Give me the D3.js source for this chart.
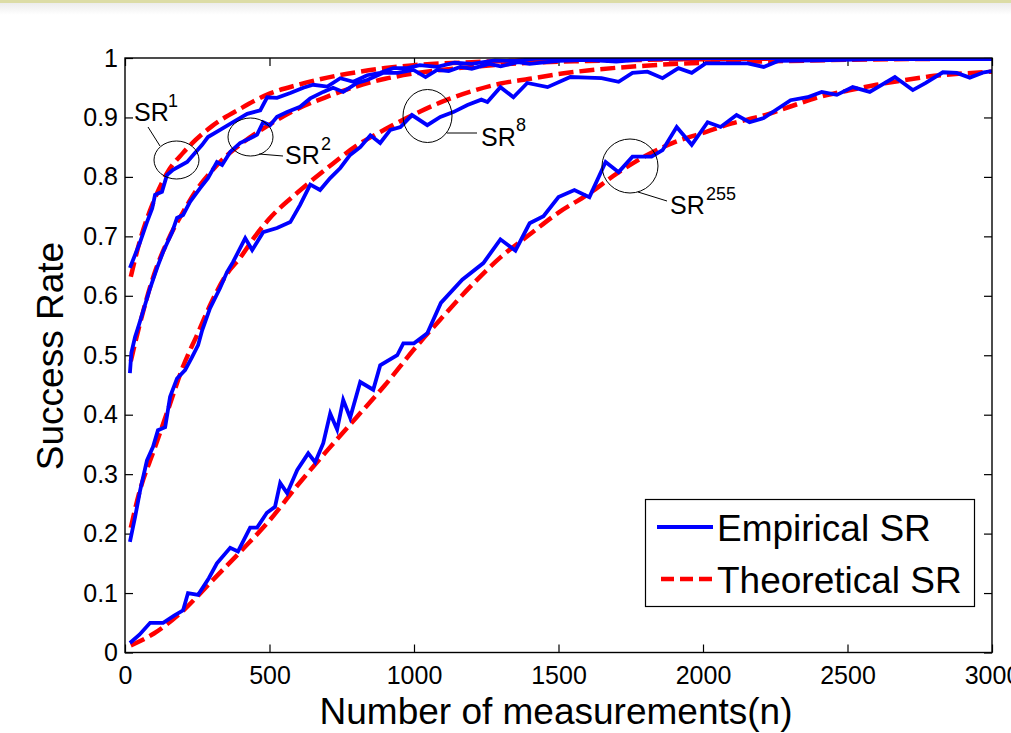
<!DOCTYPE html>
<html>
<head>
<meta charset="utf-8">
<script src="https://cdn.jsdelivr.net/npm/d3@7"></script>
<style>
  body { margin: 0; background: #fff; }
  svg { display: block; }
  text { font-family: "Liberation Sans", Arial, sans-serif; fill: #000; }
</style>
</head>
<body>
<div id="chart"></div>
<script>
// tick values
const xTicks = [0, 500, 1000, 1500, 2000, 2500, 3000];
const yTicks = [0, 0.1, 0.2, 0.3, 0.4, 0.5, 0.6, 0.7, 0.8, 0.9, 1];
const yTickLabels = ["0", "0.1", "0.2", "0.3", "0.4", "0.5", "0.6", "0.7", "0.8", "0.9", "1"];
const legendLabels = ["Empirical SR", "Theoretical SR"];

// empirical success rate, [n, SR]
const empSR1 = [[17,0.647],[35,0.669],[52,0.69],[76,0.724],[94,0.747],[104,0.77],[128,0.775],[145,0.803],[166,0.812],
  [215,0.825],[242,0.84],[267,0.854],[287,0.867],[329,0.879],[374,0.892],[423,0.906],[468,0.912],[492,0.934],[526,0.933],
  [572,0.941],[617,0.95],[651,0.955],[700,0.952],[745,0.966],[790,0.96],[838,0.971],[883,0.975],[928,0.983],[977,0.983],
  [1020,0.988],[1080,0.985],[1140,0.992],[1200,0.99],[1280,0.996],[1350,0.995],[1420,0.999],[1600,1],[3000,1]];
const empSR2 = [[17,0.47],[22,0.504],[35,0.531],[45,0.546],[62,0.573],[87,0.613],[111,0.647],[132,0.674],[163,0.707],
  [180,0.731],[201,0.736],[225,0.758],[260,0.781],[287,0.798],[318,0.825],[336,0.82],[364,0.842],[398,0.857],[433,0.865],
  [457,0.871],[478,0.892],[502,0.887],[526,0.901],[561,0.909],[606,0.918],[641,0.932],[686,0.943],[720,0.95],[755,0.943],
  [803,0.958],[838,0.963],[894,0.975],[942,0.975],[998,0.98],[1040,0.968],[1080,0.98],[1120,0.978],[1160,0.985],
  [1200,0.982],[1260,0.99],[1300,0.986],[1360,0.993],[1400,0.99],[1500,0.995],[1600,0.997],[1700,0.994],[1800,0.998],
  [2000,1],[3000,1]];
const empSR8 = [[17,0.186],[35,0.228],[52,0.272],[76,0.323],[97,0.346],[114,0.374],[139,0.379],[156,0.43],[180,0.461],
  [208,0.475],[232,0.497],[253,0.517],[267,0.542],[294,0.579],[329,0.613],[353,0.64],[374,0.657],[416,0.697],[440,0.677],
  [478,0.707],[526,0.714],[572,0.724],[606,0.753],[641,0.787],[675,0.778],[710,0.798],[745,0.815],[779,0.837],[814,0.85],
  [849,0.87],[883,0.857],[918,0.879],[953,0.884],[993,0.904],[1046,0.887],[1091,0.901],[1136,0.909],[1185,0.921],
  [1233,0.93],[1254,0.926],[1299,0.951],[1344,0.934],[1392,0.958],[1462,0.951],[1541,0.968],[1600,0.967],[1649,0.966],
  [1708,0.96],[1756,0.975],[1808,0.977],[1860,0.966],[1915,0.983],[1961,0.975],[2009,0.991],[2089,0.991],[2155,0.991],
  [2210,0.985],[2260,0.995],[2400,0.996],[2600,0.998],[3000,0.998]];
const empSR255 = [[17,0.016],[50,0.03],[87,0.05],[132,0.05],[170,0.062],[201,0.071],[218,0.1],[253,0.097],[290,0.125],
  [318,0.15],[364,0.176],[391,0.17],[433,0.21],[457,0.21],[491,0.235],[519,0.245],[537,0.285],[561,0.268],[596,0.307],
  [634,0.335],[658,0.32],[686,0.352],[710,0.402],[734,0.375],[755,0.425],[779,0.395],[814,0.455],[859,0.442],[883,0.483],
  [942,0.5],[963,0.52],[1000,0.52],[1046,0.537],[1093,0.588],[1167,0.627],[1240,0.655],[1299,0.695],[1351,0.676],
  [1400,0.722],[1448,0.734],[1500,0.766],[1555,0.778],[1607,0.766],[1663,0.825],[1708,0.808],[1756,0.834],[1822,0.834],
  [1860,0.845],[1909,0.884],[1961,0.854],[2016,0.892],[2061,0.884],[2116,0.904],[2161,0.892],[2210,0.899],[2303,0.929],
  [2362,0.934],[2411,0.943],[2463,0.938],[2518,0.951],[2577,0.943],[2664,0.968],[2726,0.946],[2771,0.958],[2830,0.976],
  [2878,0.975],[2923,0.967],[2972,0.976],[3000,0.978]];

// theoretical success rate, [n, SR]
const theoSR1 = [[20,0.632],[50,0.69],[100,0.76],[150,0.81],[200,0.84],[300,0.885],[400,0.915],[500,0.94],[600,0.955],
  [700,0.967],[800,0.976],[900,0.983],[1000,0.988],[1200,0.993],[1400,0.996],[1600,0.998],[2000,0.999],[3000,1]];
const theoSR2 = [[20,0.49],[50,0.55],[100,0.635],[150,0.695],[200,0.74],[250,0.78],[300,0.81],[350,0.835],[400,0.855],
  [500,0.888],[600,0.915],[700,0.935],[800,0.952],[900,0.965],[1000,0.974],[1200,0.985],[1400,0.992],[1600,0.995],
  [2000,0.998],[3000,1]];
const theoSR8 = [[20,0.21],[50,0.27],[100,0.34],[150,0.41],[200,0.48],[250,0.535],[300,0.59],[350,0.635],[400,0.665],
  [450,0.7],[500,0.73],[600,0.775],[700,0.815],[800,0.852],[900,0.88],[1000,0.905],[1100,0.927],[1200,0.944],[1300,0.957],
  [1400,0.965],[1500,0.973],[1600,0.979],[1800,0.987],[2000,0.992],[2200,0.994],[2500,0.997],[3000,0.999]];
const theoSR255 = [[20,0.012],[100,0.032],[200,0.07],[300,0.12],[400,0.17],[500,0.222],[600,0.283],[700,0.34],[800,0.395],
  [900,0.45],[1000,0.51],[1100,0.565],[1200,0.618],[1300,0.665],[1400,0.703],[1500,0.74],[1600,0.77],[1700,0.805],
  [1800,0.835],[1900,0.858],[2000,0.874],[2100,0.89],[2200,0.902],[2300,0.918],[2400,0.934],[2500,0.945],[2600,0.955],
  [2700,0.963],[2800,0.97],[2900,0.974],[3000,0.977]];

const empirical = [empSR1, empSR2, empSR8, empSR255];
const theoretical = [theoSR1, theoSR2, theoSR8, theoSR255];

// annotation labels: curve name superscripts
const annoSup = ["1", "2", "8", "255"];

(function() {
  const W = 1011, H = 733;
  const plot = { left: 125, right: 992, top: 58, bottom: 652.5 };

  const svg = d3.select("#chart").append("svg").attr("width", W).attr("height", H);

  // faint page header strip
  const grad = svg.append("defs").append("linearGradient")
    .attr("id", "hdr").attr("x1", 0).attr("y1", 0).attr("x2", 0).attr("y2", 1);
  grad.append("stop").attr("offset", 0).attr("stop-color", "#ececec");
  grad.append("stop").attr("offset", 1).attr("stop-color", "#fff");
  svg.append("rect").attr("x", 0).attr("y", 3).attr("width", W).attr("height", 12).attr("fill", "url(#hdr)");
  svg.append("rect").attr("x", 0).attr("y", 0).attr("width", W).attr("height", 3).attr("fill", "#dcdca6");

  svg.select("defs").append("clipPath").attr("id", "clip")
    .append("rect").attr("x", plot.left).attr("y", plot.top)
    .attr("width", plot.right - plot.left).attr("height", plot.bottom - plot.top);

  const x = d3.scaleLinear().domain([0, 3000]).range([plot.left, plot.right]);
  const y = d3.scaleLinear().domain([0, 1]).range([plot.bottom, plot.top]);

  const tick = 8;
  const styleAxis = g => {
    g.select(".domain").remove();
    g.selectAll(".tick line").attr("stroke", "#000").attr("stroke-width", 1.2);
    g.selectAll(".tick text").attr("font-size", 25).attr("font-family", null);
  };

  svg.append("g").attr("transform", `translate(0,${plot.bottom})`)
    .call(d3.axisBottom(x).tickValues(xTicks).tickSizeInner(-tick).tickSizeOuter(0).tickPadding(14).tickFormat(d3.format("d")))
    .call(styleAxis);
  svg.append("g").attr("transform", `translate(0,${plot.top})`)
    .call(d3.axisTop(x).tickValues(xTicks).tickSizeInner(-tick).tickSizeOuter(0).tickFormat(""))
    .call(styleAxis);
  svg.append("g").attr("transform", `translate(${plot.left},0)`)
    .call(d3.axisLeft(y).tickValues(yTicks).tickSizeInner(-tick).tickSizeOuter(0).tickPadding(7)
      .tickFormat((d, i) => yTickLabels[i]))
    .call(styleAxis);
  svg.append("g").attr("transform", `translate(${plot.right},0)`)
    .call(d3.axisRight(y).tickValues(yTicks).tickSizeInner(-tick).tickSizeOuter(0).tickFormat(""))
    .call(styleAxis);

  // curves
  const line = d3.line().x(d => x(d[0])).y(d => y(d[1]));
  const curves = svg.append("g").attr("clip-path", "url(#clip)");

  curves.selectAll("path.theo").data(theoretical).enter().append("path")
    .attr("class", "theo")
    .attr("d", d3.line().x(d => x(d[0])).y(d => y(d[1])).curve(d3.curveMonotoneX))
    .attr("fill", "none").attr("stroke", "#ff0000").attr("stroke-width", 4.5)
    .attr("stroke-dasharray", "15,6");

  curves.selectAll("path.emp").data(empirical).enter().append("path")
    .attr("class", "emp")
    .attr("d", line)
    .attr("fill", "none").attr("stroke", "#0000ff").attr("stroke-width", 3.8)
    .attr("stroke-linejoin", "miter");

  // axes box
  svg.append("rect").attr("x", plot.left).attr("y", plot.top)
    .attr("width", plot.right - plot.left).attr("height", plot.bottom - plot.top)
    .attr("fill", "none").attr("stroke", "#000").attr("stroke-width", 1.4);

  // annotations (circles around each curve pair)
  const anno = [
    { cx: 176.5, cy: 160, rx: 22.5, ry: 19, l: [160, 146, 148, 127], tx: 134, ty: 121, sx: 168, sy: 107 },
    { cx: 250.5, cy: 137, rx: 22.5, ry: 19, l: [259, 154, 283, 156], tx: 285, ty: 164, sx: 321, sy: 150 },
    { cx: 427.5, cy: 116, rx: 24.5, ry: 26.5, l: [447, 133, 477, 133], tx: 481, ty: 146, sx: 516, sy: 131 },
    { cx: 630, cy: 166, rx: 28, ry: 27, l: [638, 192, 667, 201], tx: 670, ty: 214, sx: 706, sy: 200 }
  ];
  const ag = svg.append("g");
  anno.forEach((a, i) => {
    ag.append("ellipse").attr("cx", a.cx).attr("cy", a.cy).attr("rx", a.rx).attr("ry", a.ry)
      .attr("fill", "none").attr("stroke", "#000").attr("stroke-width", 1);
    ag.append("line").attr("x1", a.l[0]).attr("y1", a.l[1]).attr("x2", a.l[2]).attr("y2", a.l[3])
      .attr("stroke", "#000").attr("stroke-width", 1);
    ag.append("text").attr("x", a.tx).attr("y", a.ty).attr("font-size", 25).text("SR");
    ag.append("text").attr("x", a.sx).attr("y", a.sy).attr("font-size", 18).text(annoSup[i]);
  });

  // axis titles
  svg.append("text").attr("x", 556).attr("y", 724).attr("text-anchor", "middle")
    .attr("font-size", 37).text("Number of measurements(n)");
  svg.append("text").attr("transform", "translate(63,356) rotate(-90)").attr("text-anchor", "middle")
    .attr("font-size", 37).text("Success Rate");

  // legend
  const lg = svg.append("g");
  lg.append("rect").attr("x", 645.5).attr("y", 499.5).attr("width", 329).attr("height", 107)
    .attr("fill", "#fff").attr("stroke", "#000").attr("stroke-width", 1.2);
  lg.append("line").attr("x1", 657).attr("x2", 713).attr("y1", 527).attr("y2", 527)
    .attr("stroke", "#0000ff").attr("stroke-width", 3.8);
  lg.append("line").attr("x1", 661).attr("x2", 713).attr("y1", 579).attr("y2", 579)
    .attr("stroke", "#ff0000").attr("stroke-width", 4.5).attr("stroke-dasharray", "13,6");
  lg.append("text").attr("x", 717).attr("y", 541).attr("font-size", 37).text(legendLabels[0]);
  lg.append("text").attr("x", 717).attr("y", 593).attr("font-size", 37).text(legendLabels[1]);
})();
</script>
</body>
</html>
